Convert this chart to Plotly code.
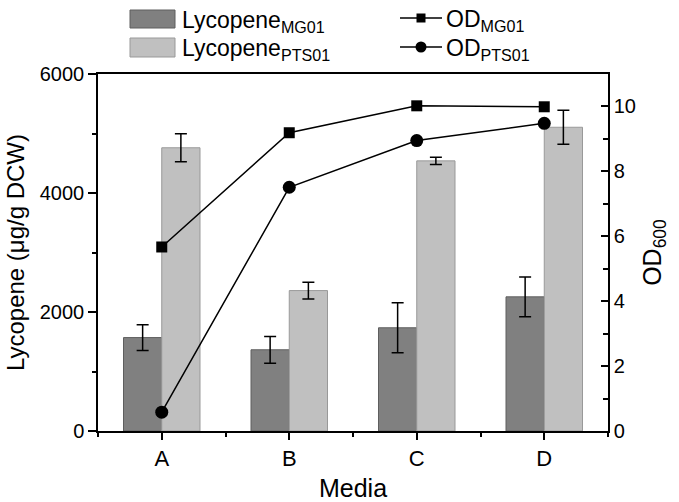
import plotly.graph_objects as go

categories = ["A", "B", "C", "D"]
lyc_mg01 = [1570, 1365, 1735, 2255]
lyc_mg01_err = [215, 225, 420, 335]
lyc_pts01 = [4760, 2360, 4540, 5105]
lyc_pts01_err = [235, 140, 60, 285]
od_mg01 = [5.67, 9.19, 10.02, 9.99]
od_pts01 = [0.58, 7.51, 8.95, 9.48]

W, H = 679, 502
L, R, T, B = 98, 71, 74, 71
PW, PH = W - L - R, H - T - B
FONT = "Liberation Sans, Arial, sans-serif"

xpos = list(range(len(categories)))

fig = go.Figure()
fig.add_trace(go.Bar(
    x=xpos, y=lyc_mg01, name="Lycopene<sub>MG01</sub>",
    marker=dict(color="#808080", line=dict(color="#5e5e5e", width=1)),
    error_y=dict(type="data", array=lyc_mg01_err, color="black", thickness=1.5, width=6),
    showlegend=False,
))
fig.add_trace(go.Bar(
    x=xpos, y=lyc_pts01, name="Lycopene<sub>PTS01</sub>",
    marker=dict(color="#c0c0c0", line=dict(color="#999999", width=1)),
    error_y=dict(type="data", array=lyc_pts01_err, color="black", thickness=1.5, width=6),
    showlegend=False,
))
fig.add_trace(go.Scatter(
    x=xpos, y=od_mg01, yaxis="y2", mode="lines+markers", name="OD<sub>MG01</sub>",
    line=dict(color="black", width=1.5),
    marker=dict(symbol="square", size=11, color="black"),
    showlegend=False,
))
fig.add_trace(go.Scatter(
    x=xpos, y=od_pts01, yaxis="y2", mode="lines+markers", name="OD<sub>PTS01</sub>",
    line=dict(color="black", width=1.5),
    marker=dict(symbol="circle", size=13, color="black"),
    showlegend=False,
))

def px_x(px):
    return (px - L) / PW

def px_y(py):
    return (H - B - py) / PH

shapes = []
annotations = []
# custom legend: bar boxes
for (y0, y1, col, edge, label) in [
    (10, 28, "#808080", "#5e5e5e", "Lycopene<sub>MG01</sub>"),
    (38, 57, "#c0c0c0", "#999999", "Lycopene<sub>PTS01</sub>"),
]:
    shapes.append(dict(type="rect", xref="paper", yref="paper",
                       x0=px_x(130), x1=px_x(175), y0=px_y(y1), y1=px_y(y0),
                       fillcolor=col, line=dict(color=edge, width=1)))
    annotations.append(dict(xref="paper", yref="paper", x=px_x(180), y=px_y((y0 + y1) / 2 + 2),
                            text=label, showarrow=False, xanchor="left", yanchor="middle",
                            font=dict(family=FONT, size=23, color="black")))
# line legend
for (yc, sym, label) in [(18, "square", "OD<sub>MG01</sub>"), (47, "circle", "OD<sub>PTS01</sub>")]:
    shapes.append(dict(type="line", xref="paper", yref="paper",
                       x0=px_x(400), x1=px_x(442), y0=px_y(yc), y1=px_y(yc),
                       line=dict(color="black", width=1.5)))
    r = 4.5 if sym == "square" else 5.5
    shapes.append(dict(type="rect" if sym == "square" else "circle", xref="paper", yref="paper",
                       x0=px_x(421 - r), x1=px_x(421 + r), y0=px_y(yc + r), y1=px_y(yc - r),
                       fillcolor="black", line=dict(color="black", width=0)))
    annotations.append(dict(xref="paper", yref="paper", x=px_x(444), y=px_y(yc + 2),
                            text=label, showarrow=False, xanchor="left", yanchor="middle",
                            font=dict(family=FONT, size=23, color="black")))

fig.update_layout(
    width=W, height=H,
    margin=dict(l=L, r=R, t=T, b=B, pad=0, autoexpand=False),
    paper_bgcolor="white", plot_bgcolor="white",
    font=dict(family=FONT, color="black"),
    barmode="group", bargap=0.4, bargroupgap=0,
    shapes=shapes, annotations=annotations,
    xaxis=dict(
        range=[-0.5, 3.5], tickvals=xpos, ticktext=categories, automargin=False,
        showline=True, linecolor="black", linewidth=1.5, mirror=True,
        ticks="outside", ticklen=7, tickwidth=1.5, tickcolor="black",
        minor=dict(tick0=0.5, dtick=1, ticks="outside", ticklen=4, tickwidth=1.5, tickcolor="black"),
        showgrid=False, zeroline=False,
        tickfont=dict(size=22),
        title=dict(text="Media", font=dict(size=25), standoff=14),
    ),
    yaxis=dict(
        range=[0, 6000], tickvals=[0, 2000, 4000, 6000], automargin=False,
        showline=True, linecolor="black", linewidth=1.5,
        ticks="outside", ticklen=8, tickwidth=1.5, tickcolor="black",
        minor=dict(dtick=1000, ticks="outside", ticklen=4, tickwidth=1.5, tickcolor="black"),
        showgrid=False, zeroline=False,
        tickfont=dict(size=20),
        title=dict(text="Lycopene (μg/g DCW)", font=dict(size=24), standoff=8),
    ),
    yaxis2=dict(
        range=[0, 11], tickvals=[0, 2, 4, 6, 8, 10], overlaying="y", side="right", automargin=False,
        showline=True, linecolor="black", linewidth=1.5,
        ticks="inside", ticklen=7, tickwidth=1.5, tickcolor="black",
        minor=dict(dtick=1, ticks="inside", ticklen=5, tickwidth=1.5, tickcolor="black"),
        showgrid=False, zeroline=False,
        tickfont=dict(size=20),
        title=dict(text="OD<sub>600</sub>", font=dict(size=25), standoff=8),
    ),
)

fig.write_html("out.html", config={"displayModeBar": False},
               post_script="document.body.style.margin='0';document.body.style.overflow='hidden';")
